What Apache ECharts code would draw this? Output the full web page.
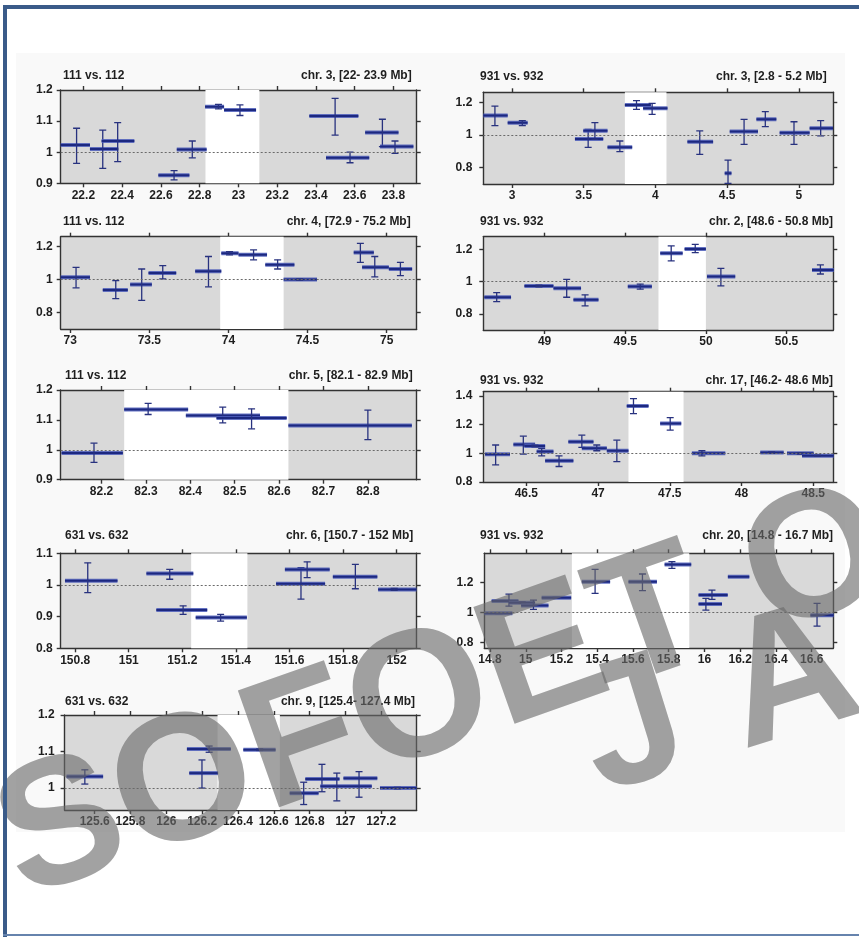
<!DOCTYPE html>
<html>
<head>
<meta charset="utf-8">
<script src="https://cdn.jsdelivr.net/npm/echarts@6/dist/echarts.min.js"></script>
<style>
html,body{margin:0;padding:0;background:#fff;}
#chart{width:859px;height:937px;}
</style>
</head>
<body>
<div id="chart"></div>
<script>
// Ratio segments per region: [start Mb, end Mb, ratio, probe Mb, lower, upper]
const seg111chr3 = [
  [22.083, 22.234, 1.023, 22.165, 0.964, 1.077],
  [22.234, 22.380, 1.010, 22.300, 0.948, 1.071],
  [22.294, 22.463, 1.036, 22.377, 0.970, 1.095],
  [22.587, 22.747, 0.926, 22.668, 0.911, 0.941],
  [22.682, 22.836, 1.009, 22.762, 0.982, 1.036],
  [22.828, 22.926, 1.146, 22.897, 1.139, 1.154],
  [22.926, 23.091, 1.136, 23.008, 1.118, 1.152],
  [23.366, 23.619, 1.116, 23.499, 1.055, 1.173],
  [23.452, 23.675, 0.982, 23.576, 0.966, 1.000],
  [23.654, 23.826, 1.063, 23.743, 1.018, 1.106],
  [23.731, 23.903, 1.018, 23.808, 0.996, 1.036]
];
const seg111chr4 = [
  [72.940, 73.125, 1.014, 73.037, 0.950, 1.074],
  [73.206, 73.364, 0.936, 73.288, 0.884, 0.994],
  [73.379, 73.516, 0.970, 73.452, 0.874, 1.064],
  [73.495, 73.670, 1.040, 73.585, 1.004, 1.084],
  [73.790, 73.955, 1.050, 73.874, 0.956, 1.140],
  [73.955, 74.064, 1.160, 74.007, 1.150, 1.170],
  [74.064, 74.244, 1.150, 74.159, 1.120, 1.180],
  [74.233, 74.417, 1.090, 74.311, 1.064, 1.120],
  [74.349, 74.560, 1.000, 74.450, 0.996, 1.004],
  [74.792, 74.919, 1.164, 74.834, 1.104, 1.220],
  [74.845, 75.014, 1.074, 74.925, 1.016, 1.140],
  [75.014, 75.161, 1.064, 75.087, 1.024, 1.104]
];
const seg111chr5 = [
  [82.110, 82.248, 0.989, 82.183, 0.958, 1.022],
  [82.251, 82.395, 1.135, 82.305, 1.118, 1.155],
  [82.390, 82.557, 1.115, 82.473, 1.090, 1.143],
  [82.459, 82.617, 1.106, 82.538, 1.070, 1.137],
  [82.621, 82.899, 1.081, 82.800, 1.034, 1.133]
];
const seg631chr6 = [
  [150.762, 150.958, 1.013, 150.847, 0.976, 1.070],
  [151.066, 151.241, 1.036, 151.153, 1.018, 1.049],
  [151.103, 151.293, 0.921, 151.203, 0.907, 0.934],
  [151.250, 151.441, 0.897, 151.343, 0.886, 0.907],
  [151.550, 151.733, 1.004, 151.643, 0.955, 1.055],
  [151.583, 151.750, 1.049, 151.666, 1.023, 1.073],
  [151.762, 151.928, 1.026, 151.846, 0.988, 1.065],
  [151.931, 152.074, 0.986, 151.991, 0.983, 0.989]
];
const seg631chr9 = [
  [125.443, 125.647, 1.032, 125.545, 1.011, 1.050],
  [126.115, 126.360, 1.107, 126.239, 1.098, 1.115],
  [126.128, 126.289, 1.041, 126.199, 1.000, 1.077],
  [126.430, 126.610, 1.105, 126.521, 1.103, 1.107],
  [126.689, 126.850, 0.986, 126.767, 0.955, 1.016],
  [126.776, 126.967, 1.025, 126.869, 0.990, 1.065],
  [126.860, 127.147, 1.005, 126.952, 0.965, 1.041],
  [126.989, 127.178, 1.027, 127.076, 0.975, 1.045],
  [127.193, 127.397, 1.000, 127.290, 0.998, 1.002]
];
const seg931chr3 = [
  [2.800, 2.970, 1.120, 2.881, 1.058, 1.179],
  [2.970, 3.109, 1.076, 3.072, 1.058, 1.089],
  [3.439, 3.636, 0.975, 3.531, 0.924, 1.035],
  [3.497, 3.666, 1.027, 3.578, 0.973, 1.076],
  [3.666, 3.838, 0.924, 3.752, 0.897, 0.963],
  [3.787, 3.968, 1.186, 3.868, 1.159, 1.212],
  [3.914, 4.084, 1.165, 3.977, 1.128, 1.196],
  [4.223, 4.402, 0.959, 4.309, 0.880, 1.025],
  [4.483, 4.530, 0.763, 4.506, 0.701, 0.845],
  [4.518, 4.715, 1.021, 4.618, 0.942, 1.097],
  [4.704, 4.843, 1.097, 4.766, 1.052, 1.144],
  [4.866, 5.075, 1.014, 4.966, 0.942, 1.082],
  [5.075, 5.238, 1.041, 5.152, 0.994, 1.089]
];
const seg931chr2 = [
  [48.626, 48.792, 0.903, 48.703, 0.876, 0.932],
  [48.875, 49.055, 0.973, 48.965, 0.968, 0.978],
  [49.055, 49.226, 0.959, 49.137, 0.903, 1.014],
  [49.179, 49.334, 0.887, 49.251, 0.849, 0.918],
  [49.516, 49.665, 0.969, 49.593, 0.953, 0.984],
  [49.717, 49.856, 1.175, 49.785, 1.128, 1.221],
  [49.868, 50.000, 1.202, 49.934, 1.179, 1.231],
  [50.007, 50.182, 1.031, 50.093, 0.973, 1.082],
  [50.658, 50.793, 1.072, 50.710, 1.047, 1.103]
];
const seg931chr17 = [
  [46.212, 46.386, 0.993, 46.286, 0.919, 1.058],
  [46.410, 46.561, 1.062, 46.479, 0.995, 1.120],
  [46.486, 46.631, 1.051, 46.560, 1.045, 1.057],
  [46.572, 46.689, 1.012, 46.607, 0.982, 1.035],
  [46.631, 46.828, 0.949, 46.728, 0.908, 0.982],
  [46.793, 46.968, 1.081, 46.887, 1.042, 1.127],
  [46.887, 47.061, 1.035, 46.991, 1.018, 1.058],
  [47.061, 47.212, 1.018, 47.131, 0.942, 1.092],
  [47.200, 47.352, 1.330, 47.247, 1.277, 1.381],
  [47.433, 47.580, 1.208, 47.503, 1.162, 1.249],
  [47.654, 47.887, 1.000, 47.724, 0.982, 1.018],
  [48.131, 48.294, 1.005, 48.210, 1.000, 1.010],
  [48.317, 48.503, 1.000, 48.410, 0.995, 1.005],
  [48.422, 48.643, 0.984, 48.530, 0.980, 0.988]
];
const seg931chr20 = [
  [14.768, 14.925, 0.996, 14.850, 0.994, 0.998],
  [14.809, 14.959, 1.078, 14.906, 1.044, 1.124],
  [14.906, 15.052, 1.067, 14.980, 1.062, 1.072],
  [14.974, 15.127, 1.049, 15.043, 1.022, 1.084],
  [15.089, 15.254, 1.100, 15.170, 1.098, 1.102],
  [15.314, 15.472, 1.207, 15.388, 1.129, 1.289],
  [15.575, 15.734, 1.207, 15.653, 1.147, 1.258],
  [15.777, 15.926, 1.322, 15.818, 1.296, 1.340],
  [15.967, 16.098, 1.058, 16.008, 1.018, 1.096],
  [15.967, 16.130, 1.118, 16.042, 1.089, 1.151],
  [16.131, 16.251, 1.240, 16.190, 1.240, 1.240],
  [16.593, 16.723, 0.984, 16.630, 0.911, 1.062]
];

// Highlighted (white) interval of each region, Mb
const highlight = [
  [22.830, 23.108], [73.948, 74.349], [82.251, 82.621], [151.233, 151.443],
  [126.286, 126.634], [3.787, 4.077], [49.706, 50.000], [47.212, 47.596], [15.258, 15.915]
];

// Panel headings
const pairLabels = ['111 vs. 112', '111 vs. 112', '111 vs. 112', '631 vs. 632', '631 vs. 632',
  '931 vs. 932', '931 vs. 932', '931 vs. 932', '931 vs. 932'];
const regionLabels = ['chr. 3, [22- 23.9 Mb]', 'chr. 4, [72.9 - 75.2 Mb]', 'chr. 5, [82.1 - 82.9 Mb]',
  'chr. 6, [150.7 - 152 Mb]', 'chr. 9, [125.4- 127.4 Mb]', 'chr. 3, [2.8 - 5.2 Mb]',
  'chr. 2, [48.6 - 50.8 Mb]', 'chr. 17, [46.2- 48.6 Mb]', 'chr. 20, [14.8 - 16.7 Mb]'];

// Axis extents and tick labels
const xExtent = [[22.083, 23.92], [72.94, 75.19], [82.108, 82.91], [150.746, 152.075],
  [125.432, 127.398], [2.8, 5.24], [48.62, 50.79], [46.2, 48.64], [14.768, 16.721]];
const yExtent = [[0.9, 1.2], [0.7, 1.26], [0.9, 1.2], [0.8, 1.1], [0.94, 1.2],
  [0.697, 1.264], [0.7, 1.278], [0.8, 1.43], [0.765, 1.396]];
const xTicks = [
  [22.2, 22.4, 22.6, 22.8, 23, 23.2, 23.4, 23.6, 23.8],
  [73, 73.5, 74, 74.5, 75],
  [82.2, 82.3, 82.4, 82.5, 82.6, 82.7, 82.8],
  [150.8, 151, 151.2, 151.4, 151.6, 151.8, 152],
  [125.6, 125.8, 126, 126.2, 126.4, 126.6, 126.8, 127, 127.2],
  [3, 3.5, 4, 4.5, 5],
  [49, 49.5, 50, 50.5],
  [46.5, 47, 47.5, 48, 48.5],
  [14.8, 15, 15.2, 15.4, 15.6, 15.8, 16, 16.2, 16.4, 16.6]
];
const yTicks = [
  [0.9, 1, 1.1, 1.2], [0.8, 1, 1.2], [0.9, 1, 1.1, 1.2], [0.8, 0.9, 1, 1.1], [1, 1.1, 1.2],
  [0.8, 1, 1.2], [0.8, 1, 1.2], [0.8, 1, 1.2, 1.4], [0.8, 1, 1.2]
];

const segments = [seg111chr3, seg111chr4, seg111chr5, seg631chr6, seg631chr9,
  seg931chr3, seg931chr2, seg931chr17, seg931chr20];

// Page layout of the nine plot boxes (pixels)
const boxes = [
  {l: 60.7, r: 416.7, t: 90,    b: 183.3, tt: 70,  tl: 63,  tr: 411.7, ym: 8},
  {l: 60.7, r: 416.7, t: 236.7, b: 329,   tt: 216, tl: 63,  tr: 410.7, ym: 8},
  {l: 60.7, r: 416.7, t: 390,   b: 479.7, tt: 370, tl: 65,  tr: 412.7, ym: 8},
  {l: 60.7, r: 416.7, t: 553.3, b: 648.3, tt: 530, tl: 65,  tr: 413.3, ym: 8},
  {l: 64.6, r: 416.7, t: 715,   b: 810,   tt: 696, tl: 65,  tr: 415,   ym: 10},
  {l: 483.3, r: 833.3, t: 92.3, b: 184,   tt: 71,  tl: 480, tr: 826.7, ym: 11},
  {l: 483.3, r: 833.3, t: 236.7, b: 330,  tt: 216, tl: 480, tr: 833,   ym: 11},
  {l: 483.3, r: 833.3, t: 391.7, b: 482,  tt: 375, tl: 480, tr: 833,   ym: 11},
  {l: 484.3, r: 833.3, t: 553.3, b: 648,  tt: 530, tl: 480, tr: 833,   ym: 11}
];

const W = 859;
const FONT = '"Liberation Sans", Arial, sans-serif';
const TXT = '#1e1e1e';
const FRAME = '#333333';

function renderBand(params, api) {
  const cs = params.coordSys;
  const a = api.coord([api.value(0), 1])[0];
  const b = api.coord([api.value(1), 1])[0];
  return {type: 'rect', shape: {x: a, y: cs.y, width: b - a, height: cs.height},
          style: {fill: '#ffffff'}};
}

function renderSegment(params, api) {
  const x0 = api.value(0), x1 = api.value(1), y = api.value(2);
  const ex = api.value(3), lo = api.value(4), hi = api.value(5);
  const p = api.coord([x0, y]), q = api.coord([x1, y]);
  const top = api.coord([ex, hi]), bot = api.coord([ex, lo]);
  const c = 3.5;
  const kids = [
    {type: 'line', shape: {x1: p[0], y1: p[1], x2: q[0], y2: q[1]},
     style: {stroke: '#4a5ab8', lineWidth: 4, opacity: 0.85}},
    {type: 'line', shape: {x1: p[0], y1: p[1], x2: q[0], y2: q[1]},
     style: {stroke: '#1c2880', lineWidth: 2}}
  ];
  if (hi - lo > 0.001) {
    const es = {stroke: '#28327f', lineWidth: 1.3};
    kids.push({type: 'line', shape: {x1: top[0], y1: top[1], x2: bot[0], y2: bot[1]}, style: es});
    kids.push({type: 'line', shape: {x1: top[0] - c, y1: top[1], x2: top[0] + c, y2: top[1]}, style: es});
    kids.push({type: 'line', shape: {x1: bot[0] - c, y1: bot[1], x2: bot[0] + c, y2: bot[1]}, style: es});
  }
  return {type: 'group', children: kids};
}

const grid = [], xAxis = [], yAxis = [], series = [], title = [];
const lineStyle = {color: FRAME, width: 1.4};
const labelStyle = {fontSize: 12, fontWeight: 'bold', color: TXT, fontFamily: FONT};

boxes.forEach((bx, i) => {
  grid.push({left: bx.l, top: bx.t, width: bx.r - bx.l, height: bx.b - bx.t,
             show: true, backgroundColor: '#d9d9d9', borderWidth: 0});
  const xBase = {gridIndex: i, type: 'value', min: xExtent[i][0], max: xExtent[i][1],
    splitLine: {show: false}, axisLine: {show: true, onZero: false, lineStyle: lineStyle},
    axisTick: {show: true, length: 4, customValues: xTicks[i], lineStyle: lineStyle}};
  xAxis.push(Object.assign({}, xBase, {position: 'bottom',
    axisLabel: Object.assign({customValues: xTicks[i], margin: 6}, labelStyle)}));
  xAxis.push(Object.assign({}, xBase, {position: 'top', axisLabel: {show: false}}));
  const yBase = {gridIndex: i, type: 'value', min: yExtent[i][0], max: yExtent[i][1],
    splitLine: {show: false}, axisLine: {show: true, onZero: false, lineStyle: lineStyle},
    axisTick: {show: true, length: 4, customValues: yTicks[i], lineStyle: lineStyle}};
  yAxis.push(Object.assign({}, yBase, {position: 'left',
    axisLabel: Object.assign({customValues: yTicks[i], margin: bx.ym}, labelStyle)}));
  yAxis.push(Object.assign({}, yBase, {position: 'right', axisLabel: {show: false}}));

  series.push({type: 'custom', xAxisIndex: 2 * i, yAxisIndex: 2 * i, z: 1,
    renderItem: renderBand, data: [highlight[i]], encode: {x: [0, 1]}, silent: true,
    markLine: {silent: true, symbol: ['none', 'none'], label: {show: false},
      lineStyle: {color: '#6a6a6a', type: [2, 2], width: 1}, data: [{yAxis: 1}]}});
  series.push({type: 'custom', xAxisIndex: 2 * i, yAxisIndex: 2 * i, z: 3, clip: true,
    renderItem: renderSegment, data: segments[i], encode: {x: [0, 1, 3], y: [2, 4, 5]}});

  const ts = {fontSize: 12, fontWeight: 'bold', color: TXT, fontFamily: FONT};
  title.push({text: pairLabels[i], left: bx.tl, top: bx.tt, padding: 0, textStyle: ts});
  title.push({text: regionLabels[i], right: W - bx.tr, top: bx.tt, padding: 0, textStyle: ts});
});

const WM = 'bold 180px ' + FONT;
const WMFILL = 'rgba(105,105,105,0.62)';
const graphic = [
  {type: 'rect', z: -10, silent: true, shape: {x: 16, y: 53, width: 829, height: 779}, style: {fill: '#f9f9f9'}},
  {type: 'rect', z: 100, silent: true, shape: {x: 3, y: 5, width: 860, height: 4}, style: {fill: '#3a5b89'}},
  {type: 'rect', z: 100, silent: true, shape: {x: 3, y: 5, width: 4, height: 932}, style: {fill: '#3a5b89'}},
  {type: 'rect', z: 100, silent: true, shape: {x: 3, y: 934, width: 860, height: 2}, style: {fill: '#6683ad'}},
  {type: 'text', z: 90, silent: true, x: 36, y: 936, rotation: 0.34,
   style: {text: 'SOFOET O', font: WM, fill: WMFILL, verticalAlign: 'bottom'}},
  {type: 'text', z: 90, silent: true, x: 612, y: 832, rotation: 0.30,
   style: {text: 'J A', font: WM, fill: WMFILL, verticalAlign: 'bottom'}}
];

const chart = echarts.init(document.getElementById('chart'), null, {renderer: 'canvas'});
chart.setOption({
  animation: false,
  backgroundColor: '#ffffff',
  title: title,
  grid: grid,
  xAxis: xAxis,
  yAxis: yAxis,
  series: series,
  graphic: graphic
});
</script>
</body>
</html>
